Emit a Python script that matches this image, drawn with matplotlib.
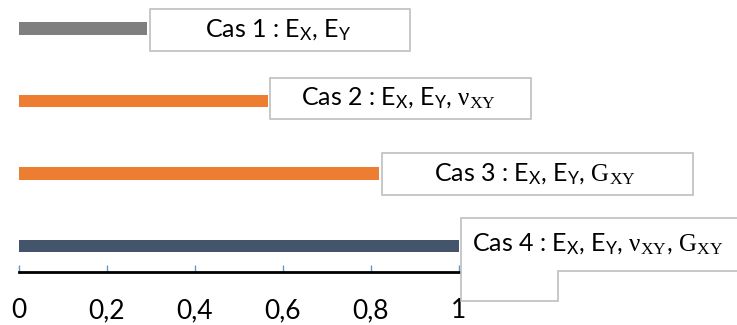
import matplotlib
matplotlib.use("Agg")
import matplotlib.pyplot as plt
from matplotlib.patches import Rectangle, Polygon
from matplotlib.ticker import FuncFormatter

plt.rcParams['font.family'] = ['Lato', 'DejaVu Sans']
plt.rcParams['mathtext.fontset'] = 'custom'
plt.rcParams['mathtext.rm'] = 'Liberation Serif'
plt.rcParams['mathtext.sf'] = 'Lato'
plt.rcParams['mathtext.it'] = 'Liberation Serif:italic'

# data
cases = ["Cas 1", "Cas 2", "Cas 3", "Cas 4"]
values = [0.292, 0.566, 0.819, 1.0]
colors = ["#7F7F7F", "#ED7D31", "#ED7D31", "#44546A"]
labels = [
    r"Cas 1 : E$_\mathsf{X}$, E$_\mathsf{Y}$",
    r"Cas 2 : E$_\mathsf{X}$, E$_\mathsf{Y}$, $\mathrm{ν}_\mathrm{XY}$",
    r"Cas 3 : E$_\mathsf{X}$, E$_\mathsf{Y}$, $\mathrm{G}_\mathrm{XY}$",
    r"Cas 4 : E$_\mathsf{X}$, E$_\mathsf{Y}$, $\mathrm{ν}_\mathrm{XY}$, $\mathrm{G}_\mathrm{XY}$",
]
xticks = [0, 0.2, 0.4, 0.6, 0.8, 1.0]

# label box layout (width, top offset, bottom offset) in data units
box_w = [0.592, 0.592, 0.709, 0.63]
box_top = [0.265, 0.313, 0.276, 0.382]
box_bot = [0.310, 0.252, 0.290, 0.345]

fig = plt.figure(figsize=(7.37, 3.25), dpi=100)
ax = fig.add_axes([18.5 / 737, 53.5 / 325, 528 / 737, 271.5 / 325])

ypos = [3, 2, 1, 0]
ax.barh(ypos, values, height=0.17, color=colors, zorder=2)

ax.set_xlim(0, 1.2)
ax.set_ylim(-0.352, 3.393)
ax.set_xticks(xticks)
ax.xaxis.set_major_formatter(FuncFormatter(
    lambda v, p: ("%g" % round(v, 1)).replace(".", ",")))
ax.tick_params(axis='x', direction='in', length=5, width=1, color="#5B9BD5",
               labelsize=19, pad=19, labelcolor="black")
ax.set_yticks([])
for s in ["top", "right", "left"]:
    ax.spines[s].set_visible(False)
ax.spines["bottom"].set_linewidth(2)
ax.spines["bottom"].set_color("black")

gap = 0.006
for i, (y, v) in enumerate(zip(ypos, values)):
    x0 = v + gap
    if i < 3:
        r = Rectangle((x0, y - box_bot[i]), box_w[i], box_top[i] + box_bot[i],
                      facecolor="white", edgecolor="#BFBFBF", lw=1.2,
                      clip_on=False, zorder=5)
        ax.add_patch(r)
    else:
        step = x0 + 0.22
        low = y - 0.755
        pts = [(x0, y + box_top[i]), (x0 + box_w[i], y + box_top[i]),
               (x0 + box_w[i], y - box_bot[i]), (step, y - box_bot[i]),
               (step, low), (x0, low)]
        ax.add_patch(Polygon(pts, closed=True, facecolor="white",
                             edgecolor="#BFBFBF", lw=1.2, clip_on=False,
                             zorder=5))
    cy = y + (box_top[i] - box_bot[i]) / 2
    ax.text(x0 + box_w[i] / 2 - 0.005, cy, labels[i], ha="center",
            va="center", fontsize=18, zorder=6, clip_on=False)

fig.savefig("out.png", dpi=100)
